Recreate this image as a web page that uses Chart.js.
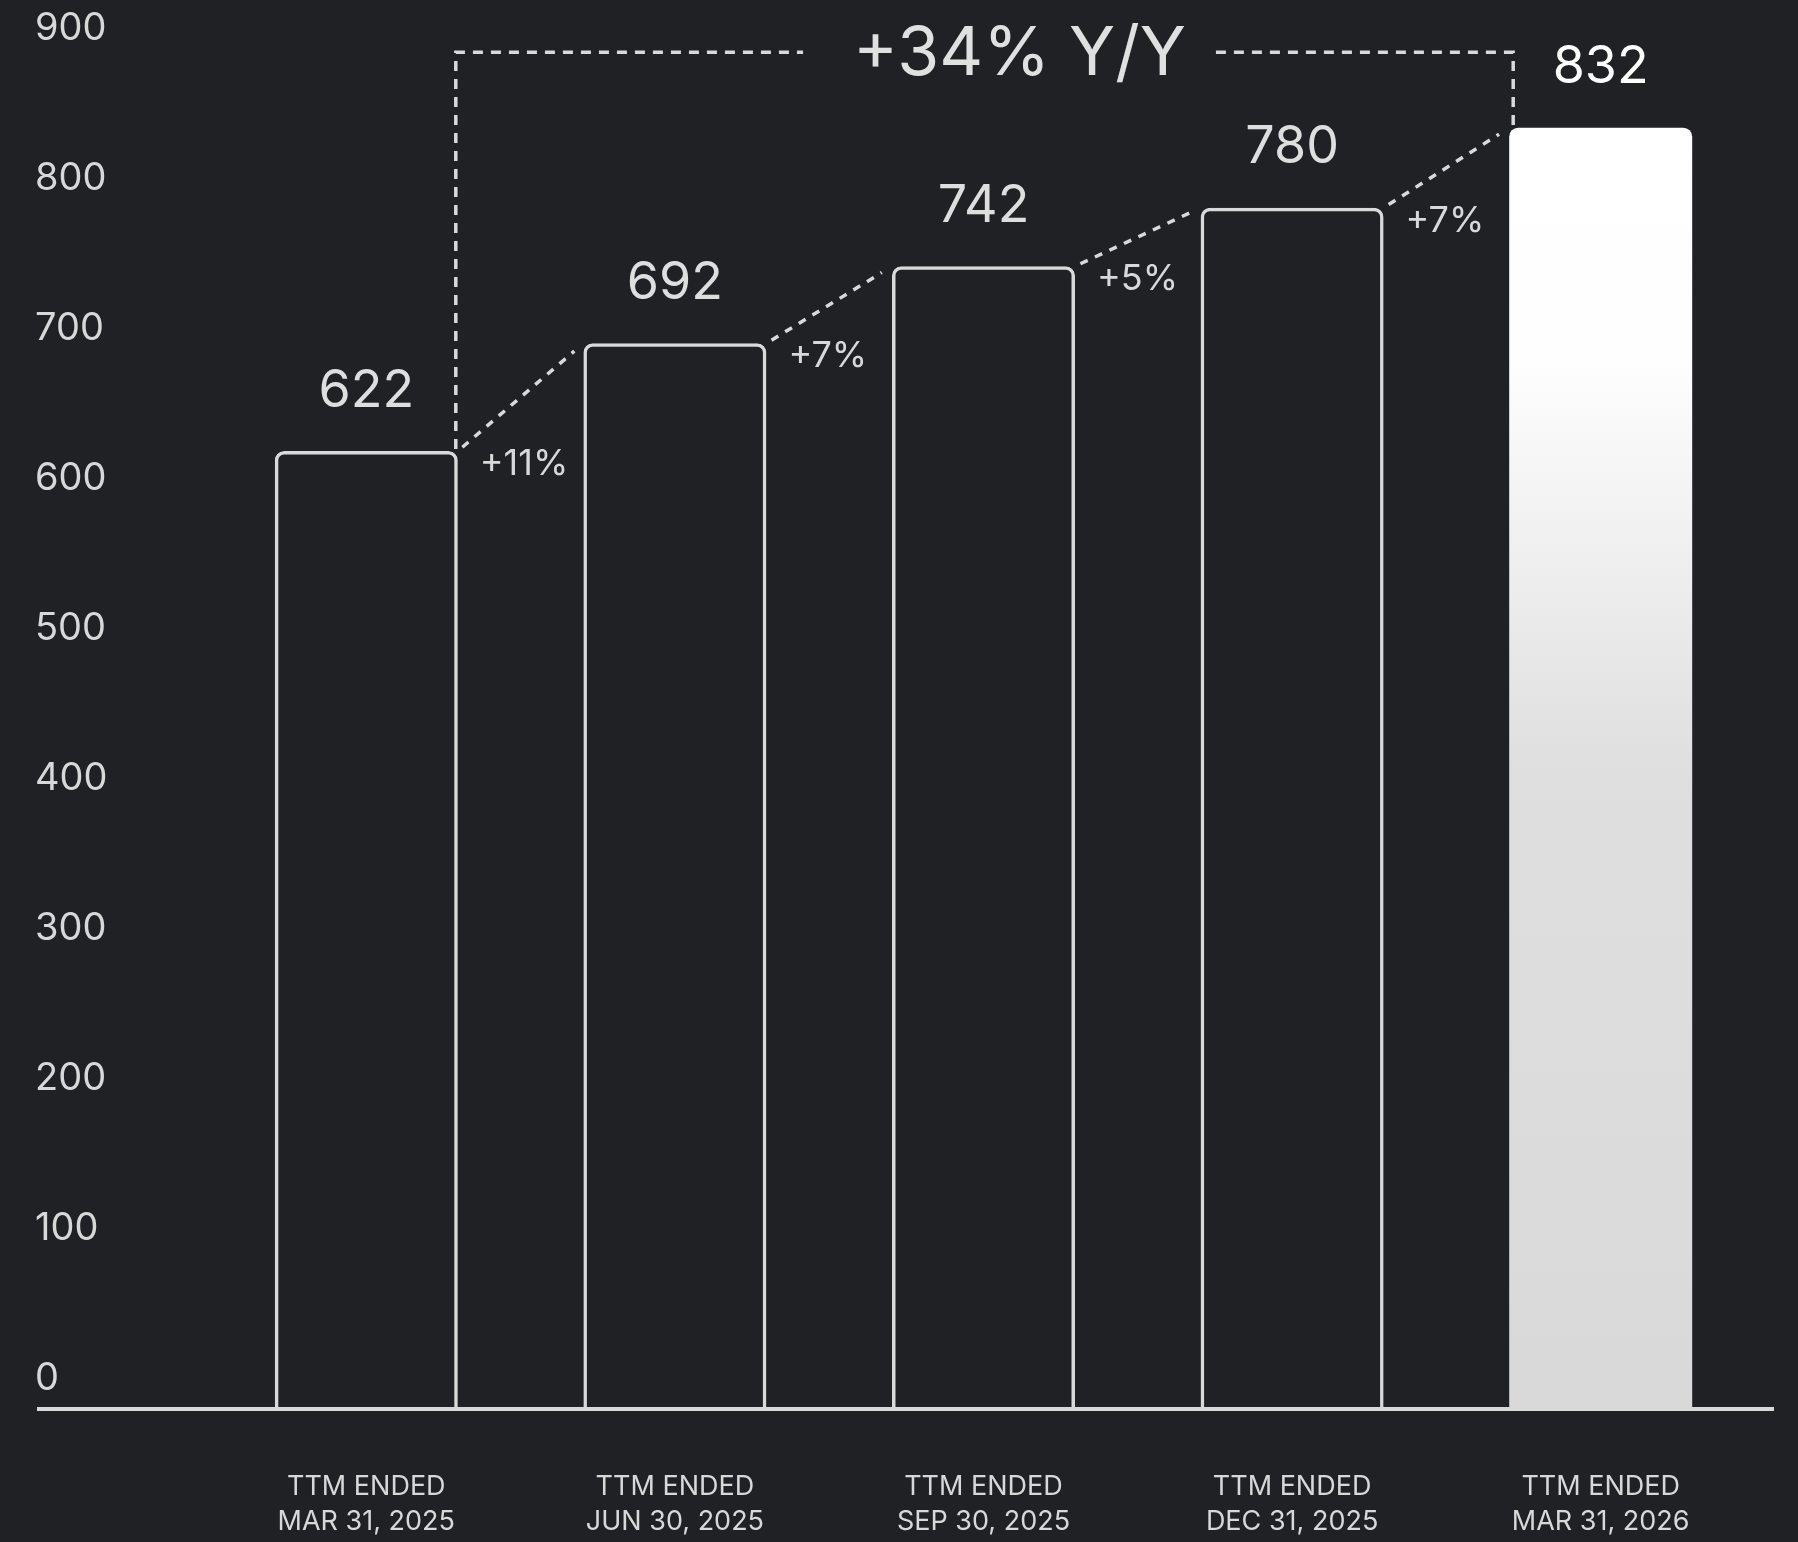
<!DOCTYPE html>
<html><head><meta charset="utf-8">
<script src="https://cdn.jsdelivr.net/npm/chart.js@4.4.1/dist/chart.umd.min.js"></script>
<style>
html,body{margin:0;padding:0;background:#1f2124;}
#wrap{width:1798px;height:1542px;position:relative;}
</style>
</head><body>
<div id="wrap"><canvas id="c"></canvas></div>
<script>
// ---- data ----
const categories = [
  ["TTM ENDED", "MAR 31, 2025"],
  ["TTM ENDED", "JUN 30, 2025"],
  ["TTM ENDED", "SEP 30, 2025"],
  ["TTM ENDED", "DEC 31, 2025"],
  ["TTM ENDED", "MAR 31, 2026"]
];
const values = [622, 692, 742, 780, 832];
const growthLabels = ["+11%", "+7%", "+5%", "+7%"];
const yoyLabel = "+34% Y/Y";
const yTickValues = [0, 100, 200, 300, 400, 500, 600, 700, 800, 900];

// ---- styles ----
const BG = '#1f2124';
const LINE = '#d9d9d9';
const TEXT = '#d8d8d8';
const FONT = 'Inter';
const BRACKET_LEVEL = 881;

const annot = {
  id: 'annot',
  afterDatasetsDraw(chart) {
    const ctx = chart.ctx;
    const ys = chart.scales.y;
    const bars = chart.getDatasetMeta(0).data;
    ctx.save();
    // baseline
    const y0 = ys.getPixelForValue(0);
    ctx.strokeStyle = LINE;
    ctx.lineWidth = 4;
    ctx.setLineDash([]);
    ctx.beginPath();
    ctx.moveTo(chart.scales.yt.left + 2, y0);
    ctx.lineTo(chart.width - 24, y0);
    ctx.stroke();

    // value labels
    ctx.textAlign = 'center';
    ctx.textBaseline = 'middle';
    ctx.font = '52px ' + FONT;
    bars.forEach((b, i) => {
      ctx.fillStyle = i === bars.length - 1 ? '#ffffff' : '#dedede';
      ctx.fillText(String(values[i]), b.x, b.y - 60);
    });

    // diagonal connectors + growth labels
    ctx.lineWidth = 3.5;
    ctx.setLineDash([8, 8]);
    ctx.strokeStyle = LINE;
    for (let i = 0; i < bars.length - 1; i++) {
      const a = bars[i], c = bars[i + 1];
      const x1 = a.x + a.width / 2, y1 = a.y;
      const x2 = c.x - c.width / 2, y2 = c.y;
      const len = Math.hypot(x2 - x1, y2 - y1);
      const ux = (x2 - x1) / len, uy = (y2 - y1) / len;
      ctx.beginPath();
      ctx.moveTo(x1 + ux * 6, y1 + uy * 6);
      ctx.lineTo(x2 - ux * 12, y2 - uy * 12);
      ctx.stroke();
    }
    ctx.font = '36px ' + FONT;
    ctx.textAlign = 'left';
    ctx.fillStyle = TEXT;
    growthLabels.forEach((t, i) => {
      const a = bars[i];
      ctx.fillText(t, a.x + a.width / 2 + 22, a.y + 13);
    });

    // bracket
    const first = bars[0], last = bars[bars.length - 1];
    const lx = first.x + first.width / 2 - 2;
    const rx = last.x - last.width / 2 + 4;
    const ty = ys.getPixelForValue(BRACKET_LEVEL);
    ctx.font = '68px ' + FONT;
    const tw = ctx.measureText(yoyLabel).width;
    const tcx = (lx + rx) / 2 + 35;
    const tL = tcx - tw / 2, tR = tcx + tw / 2;
    ctx.lineWidth = 3.5;
    ctx.setLineDash([10, 8]);
    ctx.beginPath();
    ctx.moveTo(lx, first.y - 2);
    ctx.lineTo(lx, ty);
    ctx.lineTo(tL - 50, ty);
    ctx.stroke();
    ctx.beginPath();
    ctx.moveTo(tR + 30, ty);
    ctx.lineTo(rx, ty);
    ctx.lineTo(rx, last.y - 2);
    ctx.stroke();
    ctx.setLineDash([]);
    ctx.textAlign = 'center';
    ctx.fillStyle = '#e0e0e0';
    ctx.fillText(yoyLabel, tcx, ty + 2);
    ctx.restore();
  }
};

function barFill(ctx) {
  const chart = ctx.chart;
  if (ctx.dataIndex !== values.length - 1) return 'rgba(0,0,0,0)';
  if (!chart.chartArea) return '#eeeeee';
  const ys = chart.scales.y;
  const g = chart.ctx.createLinearGradient(0, ys.getPixelForValue(values[values.length - 1]), 0, ys.getPixelForValue(0));
  g.addColorStop(0, '#ffffff');
  g.addColorStop(0.18, '#fefefe');
  g.addColorStop(0.5, '#dfdfdf');
  g.addColorStop(1, '#d9d9d9');
  return g;
}

new Chart(document.getElementById('c'), {
  type: 'bar',
  data: {
    labels: categories,
    datasets: [{
      data: values,
      backgroundColor: barFill,
      borderColor: LINE,
      borderWidth: values.map((v, i) => i === values.length - 1 ? 0 : 3.5),
      borderRadius: { topLeft: 9, topRight: 9, bottomLeft: 0, bottomRight: 0 },
      borderSkipped: 'bottom',
      barPercentage: 0.593,
      categoryPercentage: 1.0
    }]
  },
  options: {
    responsive: true,
    maintainAspectRatio: false,
    animation: false,
    layout: { padding: { top: 23, left: 35, right: 43, bottom: 0 } },
    plugins: { legend: { display: false }, tooltip: { enabled: false } },
    scales: {
      x: {
        grid: { display: false, drawTicks: false },
        border: { display: false },
        ticks: {
          color: TEXT,
          font: { family: FONT, size: 27, lineHeight: 1.3 },
          padding: 60,
          maxRotation: 0,
          autoSkip: false
        },
        afterFit(s) { s.height = 133; }
      },
      y: {
        display: false,
        min: 0,
        max: 900
      },
      yt: {
        type: 'linear',
        position: 'left',
        min: -20,
        max: 904,
        grid: { display: false, drawTicks: false },
        border: { display: false },
        afterBuildTicks(axis) { axis.ticks = yTickValues.map(v => ({ value: v })); },
        ticks: {
          color: TEXT,
          font: { family: FONT, size: 38 },
          crossAlign: 'far',
          padding: 0,
          callback: v => String(v)
        },
        afterFit(s) { s.width = 177; }
      }
    }
  },
  plugins: [annot]
});
</script>
</body></html>
